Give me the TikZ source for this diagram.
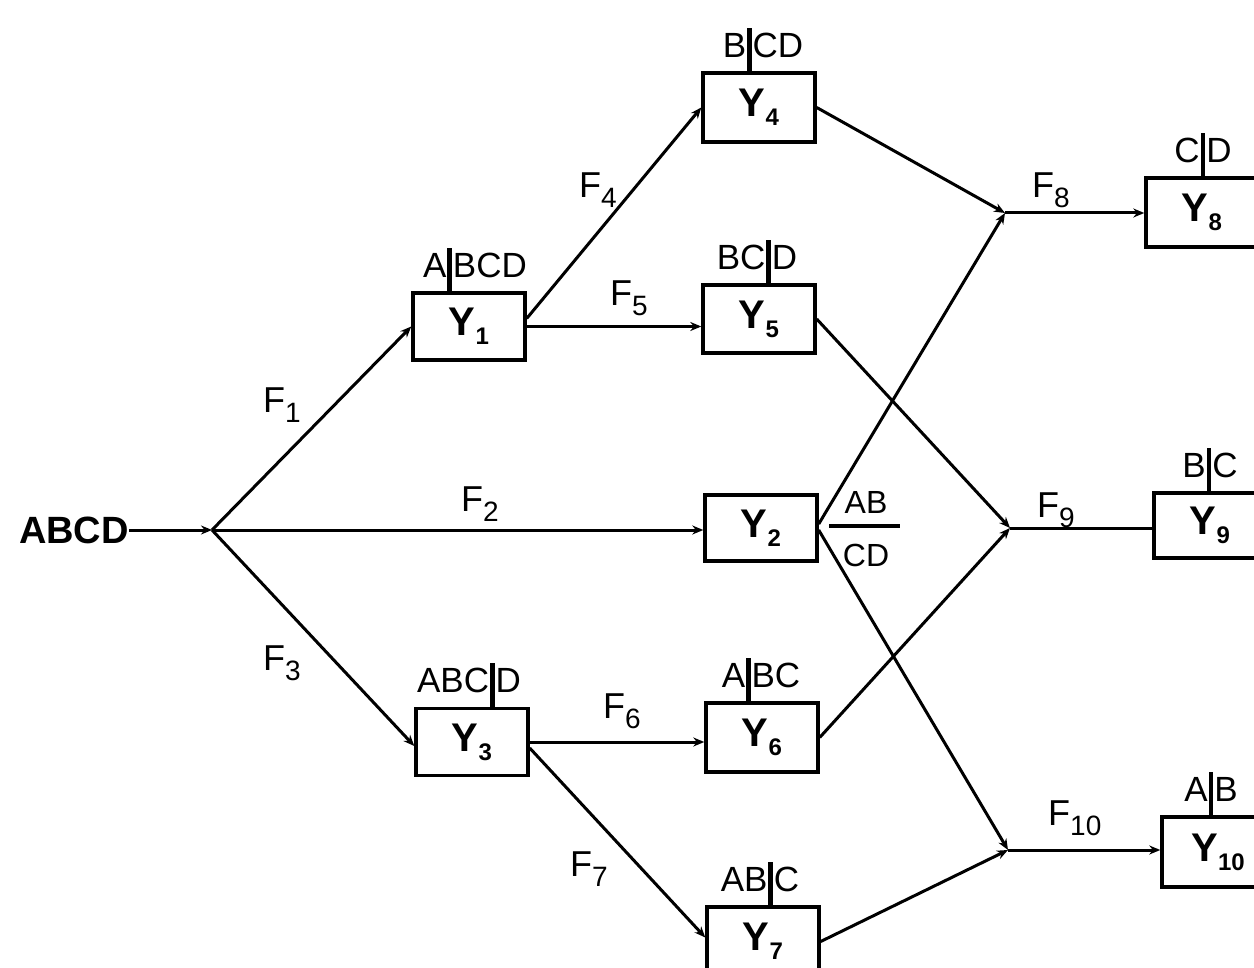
\documentclass[tikz,border=0pt]{standalone}
\usepackage{fontspec}
\setmainfont{Liberation Sans}
\usetikzlibrary{arrows.meta,calc}
% vertical partition bar inside a split label
\newcommand{\pbar}{\hspace{1pt}\rule[-15pt]{4.5pt}{45pt}\hspace{1pt}}
% flow label F with a lowered index
\newcommand{\Fsub}[1]{F\raisebox{-10pt}{\fontsize{28}{28}\selectfont #1}}
% bold block name Y with a lowered index
\newcommand{\Ysub}[1]{\textbf{Y\raisebox{-9pt}{\fontsize{24}{24}\selectfont #1}}}

\begin{document}
\begin{tikzpicture}[x=1pt,y=-1pt,
  box/.style={draw, line width=3.4pt, minimum width=112pt, inner sep=0pt,
              font=\fontsize{40}{40}\selectfont},
  lab/.style={anchor=south, inner sep=0pt, font=\fontsize{35}{35}\selectfont},
  flab/.style={anchor=base west, inner sep=0pt, font=\fontsize{36}{36}\selectfont},
  flow/.style={line width=3pt, -{Stealth[length=11pt,width=9pt]}},
  plain/.style={line width=3pt}]

\useasboundingbox (0,0) rectangle (1254,968);
\fill[white] (0,0) rectangle (1254,968);
\clip (0,0) rectangle (1254,968);

% source and branching points
\node[anchor=base, inner sep=0pt, font=\fontsize{38}{38}\selectfont\bfseries] (abcd) at (74,543) {ABCD};
\coordinate (j0) at (212,530);
\coordinate (j8) at (1005,213);
\coordinate (j9) at (1010,528);
\coordinate (j10) at (1008,850);

% blocks
\node[box, minimum height=67pt] (y1) at (469,326.5) {\Ysub{1}};
\node[box, minimum height=66pt] (y2) at (761,528) {\Ysub{2}};
\node[box, minimum height=67pt] (y3) at (472,742) {\Ysub{3}};
\node[box, minimum height=69pt] (y4) at (759,107.5) {\Ysub{4}};
\node[box, minimum height=68pt] (y5) at (759,319) {\Ysub{5}};
\node[box, minimum height=69pt] (y6) at (762,737.5) {\Ysub{6}};
\node[box, minimum height=69pt] (y7) at (763,941.5) {\Ysub{7}};
\node[box, minimum height=69pt] (y8) at (1202,212.5) {\Ysub{8}};
\node[box, minimum height=65pt] (y9) at (1210,525.5) {\Ysub{9}};
\node[box, minimum height=70pt] (y10) at (1218,852) {\Ysub{10}};

% split labels above the blocks
\node[lab] (l1) at (475,293) {A\pbar BCD};
\node[lab] (l3) at (469,708) {ABC\pbar D};
\node[lab] (l4) at (763,73) {B\pbar CD};
\node[lab] (l5) at (757,285) {BC\pbar D};
\node[lab] (l6) at (761,703) {A\pbar BC};
\node[lab] (l7) at (760,907) {AB\pbar C};
\node[lab] (l8) at (1203,178) {C\pbar D};
\node[lab] (l9) at (1210,493) {B\pbar C};
\node[lab] (l10) at (1211,817) {A\pbar B};

% fraction beside Y2
\node[anchor=base, inner sep=0pt, font=\fontsize{32}{32}\selectfont] (ab) at (866,513) {AB};
\node[anchor=base, inner sep=0pt, font=\fontsize{32}{32}\selectfont] (cd) at (866,566) {CD};
\draw[line width=3.2pt] (829,526) -- (900,526);

% flows
\draw[flow] (abcd.east |- j0) -- (j0);
\draw[flow] (j0) -- (y1.west);
\draw[flow] (j0) -- (j0 -| y2.west);
\draw[flow] (j0) -- ($(y3.west)+(0,4)$);
\draw[flow] ($(y1.east)+(0,-8)$) -- (y4.west);
\draw[flow] (y1.east) -- (y1.east -| y5.west);
\draw[flow] (y3.east) -- (y3.east -| y6.west);
\draw[flow] ($(y3.east)+(0,6)$) -- ($(y7.west)+(0,-4)$);
\draw[flow] (y4.east) -- (j8);
\draw[flow] ($(y2.east)+(0,-4)$) -- (j8);
\draw[flow] (y5.east) -- (j9);
\draw[flow] (y6.east) -- (j9);
\draw[flow] ($(y2.east)+(0,2)$) -- (j10);
\draw[flow] (y7.east) -- (j10);
\draw[flow] (j8) -- (j8 -| y8.west);
\draw[plain] (j9) -- (j9 -| y9.west);
\draw[flow] (j10) -- (j10 -| y10.west);

% flow labels
\node[flab] (f1) at (263,413) {\Fsub{1}};
\node[flab] (f2) at (461,511) {\Fsub{2}};
\node[flab] (f3) at (263,670) {\Fsub{3}};
\node[flab] (f4) at (579,198) {\Fsub{4}};
\node[flab] (f5) at (610,306) {\Fsub{5}};
\node[flab] (f6) at (603,718) {\Fsub{6}};
\node[flab] (f7) at (570,876) {\Fsub{7}};
\node[flab] (f8) at (1032,198) {\Fsub{8}};
\node[flab] (f9) at (1037,517) {\Fsub{9}};
\node[flab] (f10) at (1048,825) {\Fsub{10}};
\end{tikzpicture}
\end{document}
